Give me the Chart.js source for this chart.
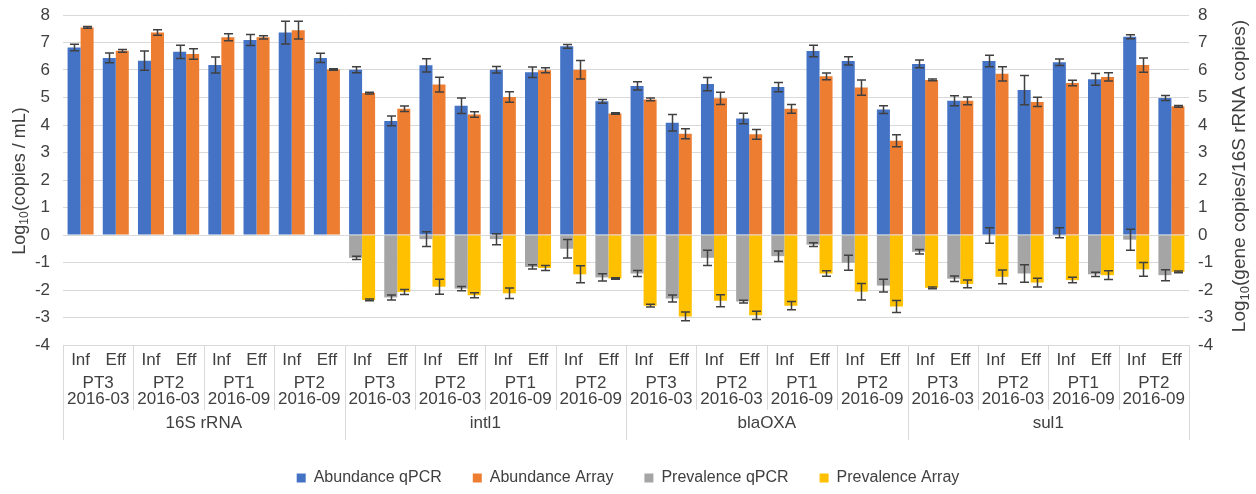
<!DOCTYPE html>
<html><head><meta charset="utf-8">
<script src="https://cdn.jsdelivr.net/npm/chart.js@4/dist/chart.umd.min.js"></script>
<style>html,body{margin:0;padding:0;background:#fff;overflow:hidden}</style>
</head><body>
<canvas id="c" width="1256" height="494"></canvas>
<script>
const categories = ['Inf','Eff','Inf','Eff','Inf','Eff','Inf','Eff','Inf','Eff','Inf','Eff','Inf','Eff','Inf','Eff',
                    'Inf','Eff','Inf','Eff','Inf','Eff','Inf','Eff','Inf','Eff','Inf','Eff','Inf','Eff','Inf','Eff'];
const groupSites = ['PT3','PT2','PT1','PT2','PT3','PT2','PT1','PT2','PT3','PT2','PT1','PT2','PT3','PT2','PT1','PT2'];
const groupDates = ['2016-03','2016-03','2016-09','2016-09','2016-03','2016-03','2016-09','2016-09',
                    '2016-03','2016-03','2016-09','2016-09','2016-03','2016-03','2016-09','2016-09'];
const genes = ['16S rRNA','intl1','blaOXA','sul1'];
const yTicks = [-4,-3,-2,-1,0,1,2,3,4,5,6,7,8];

const abundanceQPCR = [6.82,6.44,6.34,6.66,6.18,7.09,7.36,6.44, 6.01,4.15,6.17,4.70,6.01,5.92,6.86,4.86,
                       5.42,4.08,5.49,4.24,5.38,6.69,6.33,4.56, 6.22,4.88,6.33,5.27,6.28,5.66,7.21,4.98];
const abundanceQPCRErr = [0.12,0.18,0.35,0.24,0.29,0.20,0.41,0.17, 0.11,0.18,0.24,0.28,0.12,0.19,0.07,0.07,
                          0.15,0.30,0.24,0.19,0.17,0.21,0.15,0.14, 0.14,0.18,0.21,0.53,0.12,0.21,0.07,0.09];
const abundanceArray = [7.55,6.70,7.36,6.58,7.19,7.19,7.45,6.02, 5.16,4.59,5.47,4.38,5.02,5.99,6.01,4.42,
                        4.93,3.68,4.97,3.66,4.59,5.77,5.36,3.43, 5.64,4.88,5.86,4.84,5.53,5.75,6.18,4.68];
const abundanceArrayErr = [0.03,0.05,0.10,0.19,0.13,0.06,0.32,0.03, 0.03,0.10,0.27,0.10,0.19,0.09,0.34,0.03,
                           0.05,0.18,0.22,0.18,0.16,0.12,0.28,0.22, 0.03,0.14,0.26,0.17,0.10,0.15,0.26,0.03];
const prevalenceQPCR = [null,null,null,null,null,null,null,null,
                        -0.83,-2.27,-0.15,-1.95,-0.15,-1.16,-0.50,-1.54,
                        -1.40,-2.31,-0.83,-2.42,-0.77,-0.35,-1.01,-1.84,
                        -0.61,-1.59,-0.02,-1.40,0.08,-1.43,-0.17,-1.46];
const prevalenceQPCRErr = [null,null,null,null,null,null,null,null,
                           0.06,0.09,0.27,0.08,0.20,0.08,0.34,0.13,
                           0.11,0.13,0.28,0.05,0.19,0.07,0.27,0.23,
                           0.08,0.10,0.28,0.32,0.18,0.08,0.38,0.20];
const prevalenceArray = [null,null,null,null,null,null,null,null,
                         -2.36,-2.07,-1.88,-2.19,-2.12,-1.20,-1.43,-1.58,
                         -2.57,-2.96,-2.39,-2.92,-2.57,-1.40,-2.06,-2.60,
                         -1.92,-1.78,-1.52,-1.73,-1.64,-1.46,-1.25,-1.34];
const prevalenceArrayErr = [null,null,null,null,null,null,null,null,
                            0.03,0.09,0.27,0.09,0.19,0.09,0.31,0.03,
                            0.05,0.16,0.22,0.15,0.15,0.10,0.30,0.22,
                            0.03,0.14,0.25,0.16,0.10,0.16,0.25,0.03];

const FONT = "'Liberation Sans', Arial, sans-serif";
const TXT = '#404040';
const GRID = '#D9D9D9';

const errorBars = {
  id: 'errorBars',
  afterDatasetsDraw(chart) {
    const ctx = chart.ctx;
    ctx.save();
    ctx.strokeStyle = '#404040';
    ctx.lineWidth = 1.5;
    chart.data.datasets.forEach((ds, di) => {
      const meta = chart.getDatasetMeta(di);
      const sc = chart.scales[ds.yAxisID];
      meta.data.forEach((bar, i) => {
        const v = ds.data[i], e = ds.errors[i];
        if (v == null || e == null) return;
        const y1 = sc.getPixelForValue(v + e), y2 = sc.getPixelForValue(v - e);
        const cx = Math.round(bar.x) + 0.5, hw = 4.5;
        ctx.beginPath();
        ctx.moveTo(cx, y1); ctx.lineTo(cx, y2);
        ctx.moveTo(cx - hw, y1); ctx.lineTo(cx + hw, y1);
        ctx.moveTo(cx - hw, y2); ctx.lineTo(cx + hw, y2);
        ctx.stroke();
      });
    });
    ctx.restore();
  }
};

function drawSubTitle(ctx, cx, cy, pre, sub, post, size) {
  ctx.save();
  ctx.translate(cx, cy);
  ctx.rotate(-Math.PI / 2);
  ctx.fillStyle = TXT;
  ctx.textBaseline = 'middle';
  ctx.textAlign = 'left';
  const big = size + 'px ' + FONT, small = Math.round(size * 0.66) + 'px ' + FONT;
  ctx.font = big; const w1 = ctx.measureText(pre).width, w3 = ctx.measureText(post).width;
  ctx.font = small; const w2 = ctx.measureText(sub).width;
  let x0 = -(w1 + w2 + w3) / 2;
  ctx.font = big; ctx.fillText(pre, x0, 0);
  ctx.font = small; ctx.fillText(sub, x0 + w1, 5);
  ctx.font = big; ctx.fillText(post, x0 + w1 + w2, 0);
  ctx.restore();
}

const multiLevel = {
  id: 'multiLevel',
  afterLayout(chart) {
    const lg = chart.legend;
    if (lg) { lg.top += 2; lg.bottom += 2; }
  },
  afterDraw(chart) {
    const ctx = chart.ctx, x = chart.scales.x, ca = chart.chartArea;
    const top = ca.bottom;
    ctx.save();
    ctx.strokeStyle = GRID;
    ctx.lineWidth = 1;
    const nG = groupSites.length;
    const bnd = g => g === 0 ? ca.left : g === nG ? ca.right :
      (x.getPixelForValue(2 * g - 1) + x.getPixelForValue(2 * g)) / 2;
    for (let g = 0; g <= nG; g++) {
      const px = Math.round(bnd(g)) + 0.5;
      const bottom = (g % 4 === 0) ? 440 : 410;
      ctx.beginPath(); ctx.moveTo(px, top); ctx.lineTo(px, bottom); ctx.stroke();
    }
    ctx.fillStyle = TXT;
    ctx.textAlign = 'center';
    ctx.textBaseline = 'middle';
    ctx.font = '17px ' + FONT;
    for (let g = 0; g < nG; g++) {
      const cx = (x.getPixelForValue(2 * g) + x.getPixelForValue(2 * g + 1)) / 2;
      ctx.fillText(groupSites[g], cx, 383);
      ctx.fillText(groupDates[g], cx, 399);
    }
    for (let k = 0; k < genes.length; k++) {
      const cx = (bnd(4 * k) + bnd(4 * k + 4)) / 2;
      ctx.fillText(genes[k], cx, 423);
    }
    ctx.restore();
    drawSubTitle(ctx, 20, 181, 'Log', '10', '(copies / mL)', 18);
    drawSubTitle(ctx, 1240, 176, 'Log', '10', '(gene copies/16S rRNA copies)', 19);
  }
};

new Chart(document.getElementById('c'), {
  type: 'bar',
  data: {
    labels: categories,
    datasets: [
      { label: 'Abundance qPCR', data: abundanceQPCR, errors: abundanceQPCRErr, backgroundColor: '#4472C4', yAxisID: 'y', stack: 'q' },
      { label: 'Abundance Array', data: abundanceArray, errors: abundanceArrayErr, backgroundColor: '#ED7D31', yAxisID: 'y', stack: 'a' },
      { label: 'Prevalence qPCR', data: prevalenceQPCR, errors: prevalenceQPCRErr, backgroundColor: '#A5A5A5', yAxisID: 'y1', stack: 'q' },
      { label: 'Prevalence Array', data: prevalenceArray, errors: prevalenceArrayErr, backgroundColor: '#FFC000', yAxisID: 'y1', stack: 'a' }
    ]
  },
  options: {
    responsive: false,
    animation: false,
    devicePixelRatio: 1,
    categoryPercentage: 0.74,
    barPercentage: 1.0,
    layout: { padding: { top: 15, left: 0, right: 0, bottom: 0 } },
    plugins: {
      tooltip: { enabled: false },
      legend: {
        position: 'bottom',
        labels: { boxWidth: 9, boxHeight: 9, padding: 31, color: TXT, font: { family: FONT, size: 16 } }
      }
    },
    scales: {
      x: {
        grid: { display: false },
        border: { display: false },
        ticks: { color: TXT, font: { family: FONT, size: 17 }, maxRotation: 0, autoSkip: false, padding: -3 },
        afterFit: s => { s.height = 92; }
      },
      y: {
        position: 'left',
        stacked: false,
        min: -4, max: 8,
        afterBuildTicks: s => { s.ticks = yTicks.map(v => ({ value: v })); },
        grid: { color: GRID, drawTicks: false },
        border: { display: false },
        ticks: { color: TXT, font: { family: FONT, size: 17 }, padding: 13 },
        afterFit: s => { s.width = 63; s.paddingTop = 0; s.paddingBottom = 0; }
      },
      y1: {
        position: 'right',
        stacked: false,
        min: -4, max: 8,
        afterBuildTicks: s => { s.ticks = yTicks.map(v => ({ value: v })); },
        grid: { drawOnChartArea: false, drawTicks: false },
        border: { display: false },
        ticks: { color: TXT, font: { family: FONT, size: 17 }, padding: 9 },
        afterFit: s => { s.width = 67; s.paddingTop = 0; s.paddingBottom = 0; }
      }
    }
  },
  plugins: [errorBars, multiLevel]
});
</script>
</body></html>
